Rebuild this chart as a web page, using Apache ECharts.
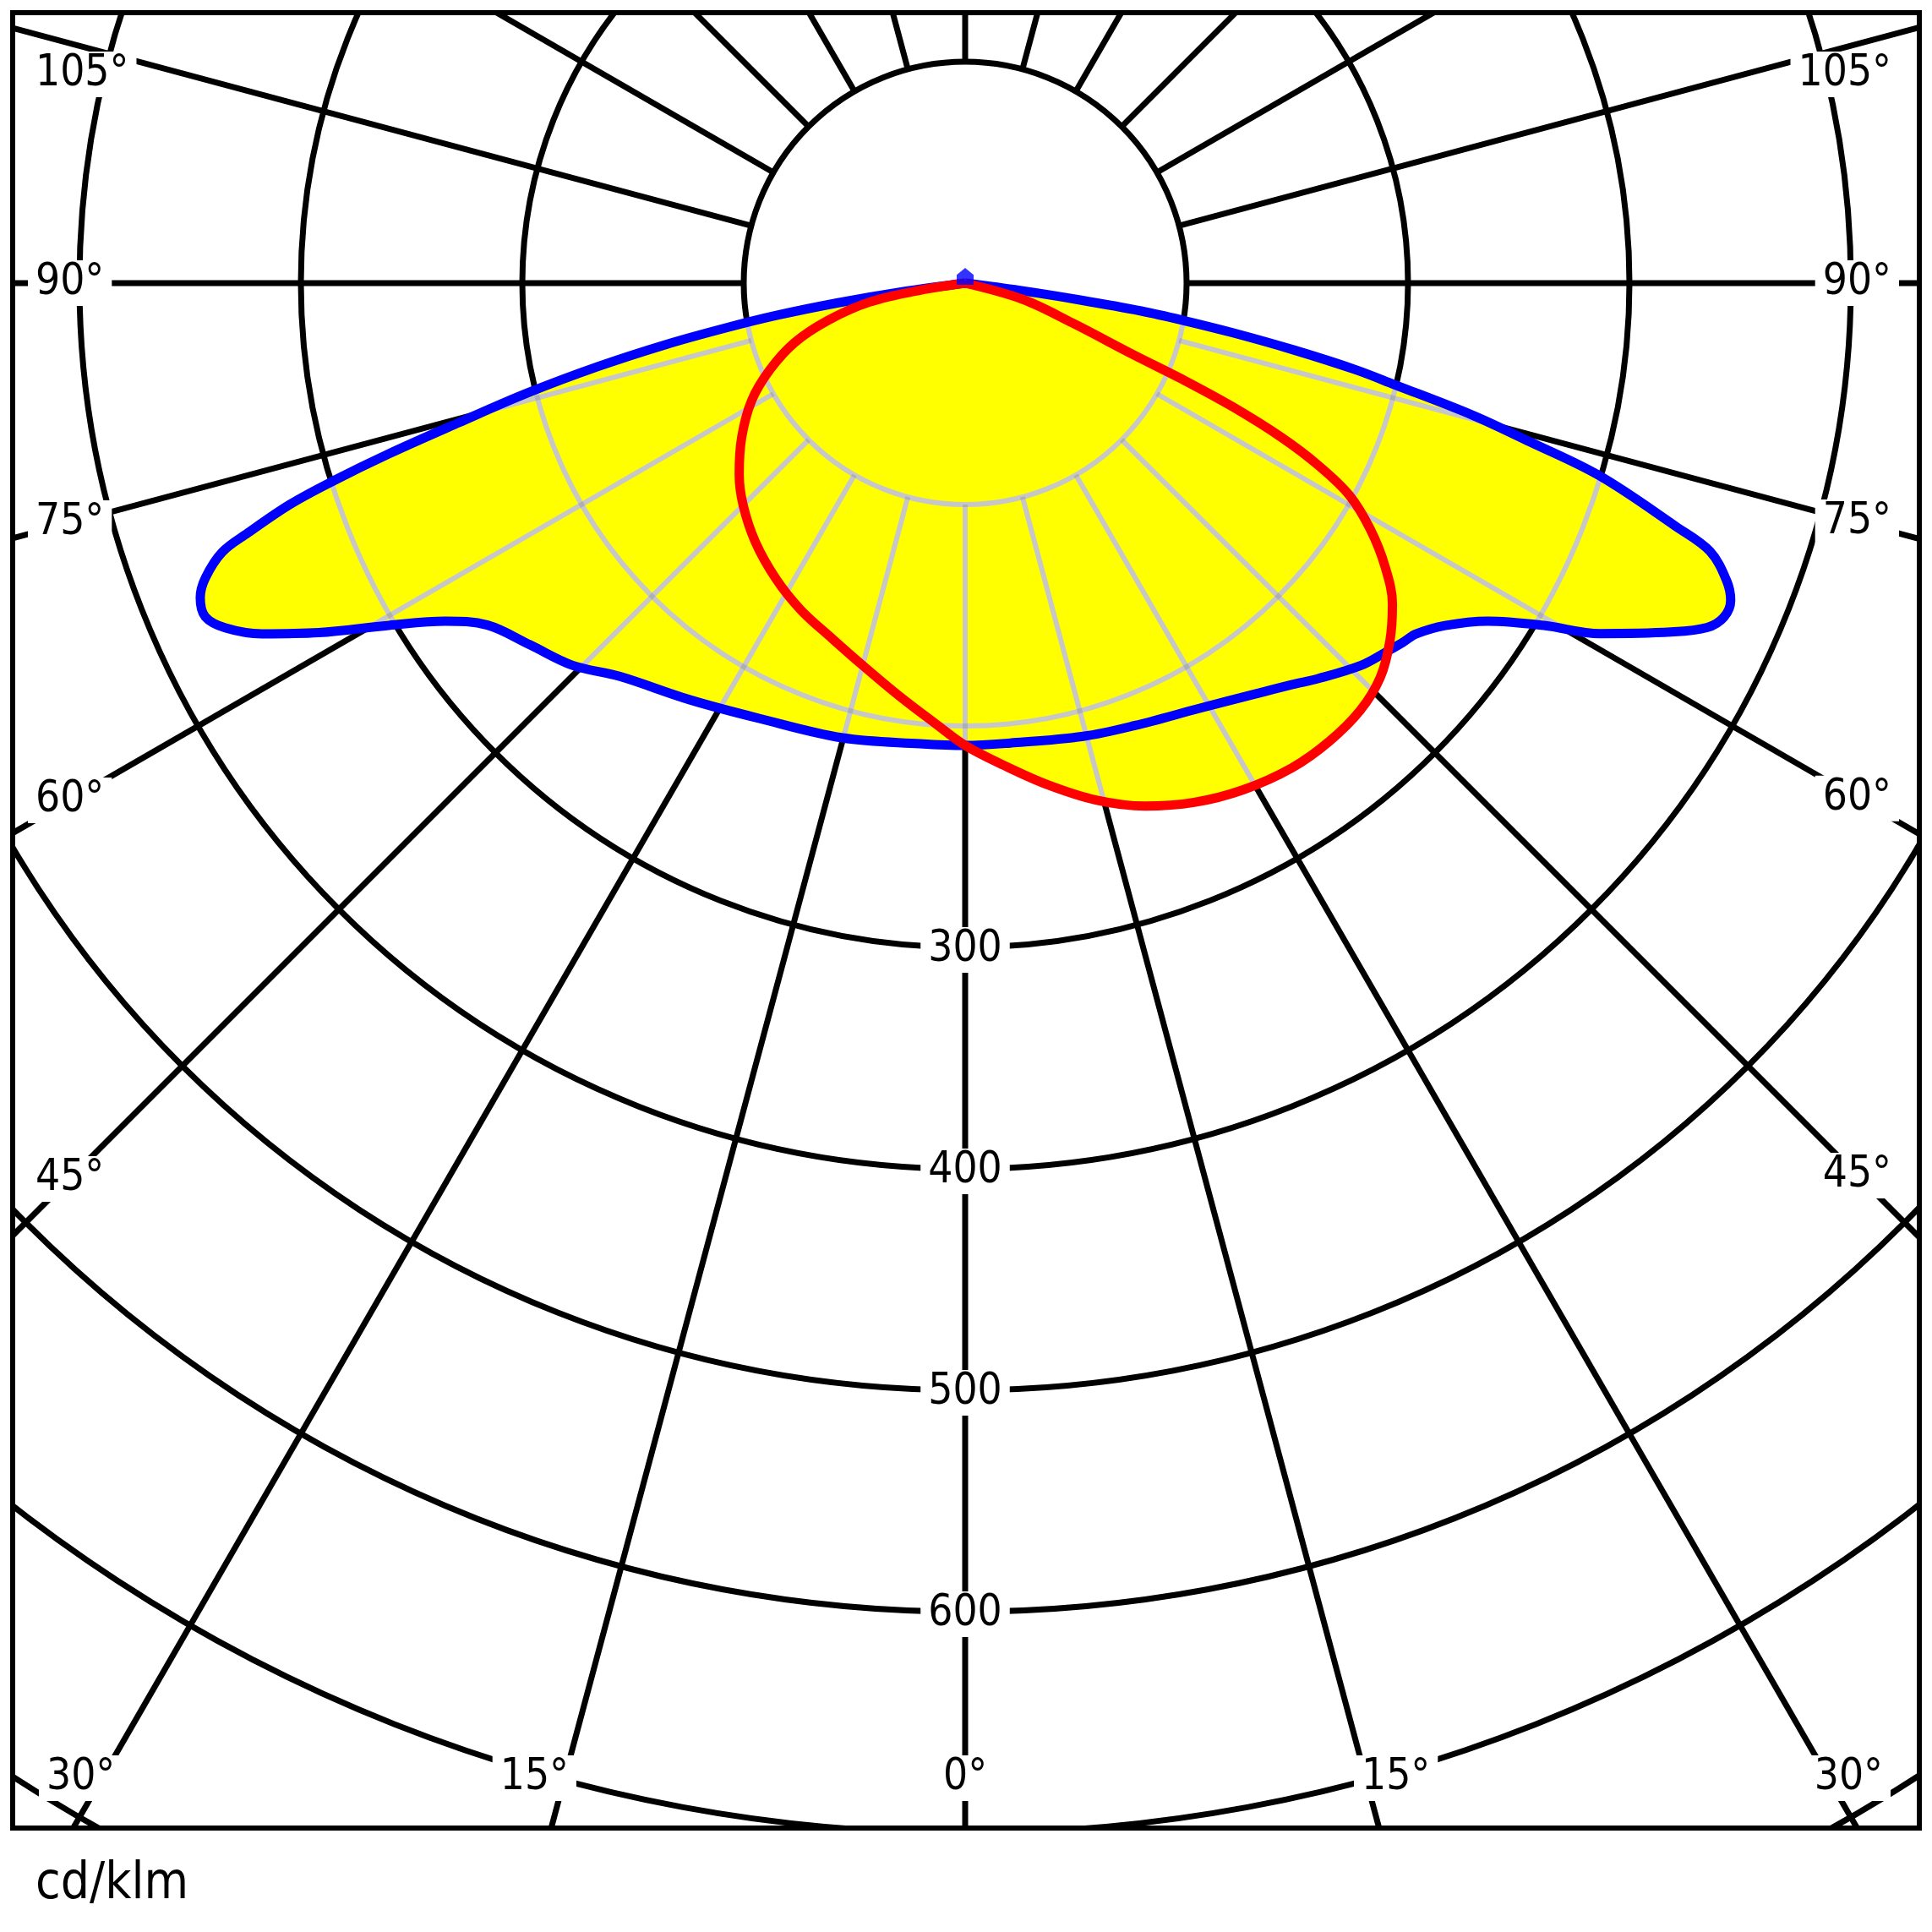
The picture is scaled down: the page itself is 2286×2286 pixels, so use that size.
<!DOCTYPE html>
<html><head><meta charset="utf-8">
<script src="https://cdn.jsdelivr.net/npm/echarts@6/dist/echarts.min.js"></script>
<style>html,body{margin:0;padding:0;background:#fff}#c{width:2286px;height:2286px}</style>
</head><body><div id="c"></div>
<script>
// ---------- data (luminous intensity, cd/klm, vs gamma angle in degrees) ----------
// C0/C180 plane (blue)
const blueLeftGamma  = [0, 5.6, 15.1, 25.35, 33.5, 41.3, 45.8, 50.3, 54.4, 56.96, 59.3, 61.6, 63.5, 65.0, 66.3, 67.65, 68.8, 70.1, 70.8, 71.85, 72.6, 73.5, 74.6, 75.9, 77.2, 78.4, 79.4, 80.3, 81.2, 82.2, 90];
const blueLeftValue  = [208.8, 209, 212.7, 217.5, 225.6, 236.4, 247.5, 255.6, 265.3, 280, 302.7, 331.8, 354.9, 368.5, 374.8, 373.5, 368, 356.8, 343, 321, 299.6, 271.5, 237.1, 204, 170, 138, 110, 86, 58, 28, 0];
const blueRightGamma = [0, 5.6, 14.6, 21, 28.8, 35.4, 39.2, 41.8, 46.05, 48.6, 50.6, 52.1, 54.5, 57.1, 59.4, 61.1, 63.7, 65.1, 66.25, 67.5, 68.66, 70.2, 71.1, 73.1, 74.3, 75.4, 76.7, 77.5, 78.5, 79.5, 80.3, 81.0, 81.65, 82.4, 90];
const blueRightValue = [208.8, 208.7, 211.5, 214, 219.2, 227.4, 233.9, 239.5, 248.6, 252.5, 255.7, 258, 266.3, 281, 303.7, 327.5, 355.6, 369.4, 374.4, 374.2, 369.2, 357.5, 339.3, 299.5, 264.9, 237.1, 199.2, 180.5, 151.5, 122.6, 99.8, 80.5, 52.5, 25, 0];
// C90/C270 plane (red)
const redLeftGamma   = [0, 3.72, 9.03, 15.03, 20.6, 26.7, 32.55, 39.0, 45.0, 49.75, 55.4, 61.2, 66.1, 70.8, 74.8, 78.8, 81.2, 90];
const redLeftValue   = [208.8, 199.7, 188.9, 178.7, 171.3, 165.2, 158.6, 150.5, 141.8, 133.7, 122.6, 110, 96.4, 81.5, 64.2, 44, 20, 0];
const redRightGamma  = [0, 4.6, 9.3, 14.2, 19.0, 23.8, 28.76, 34.0, 38.5, 42.75, 46.45, 49.9, 53.1, 55.96, 58.7, 61.1, 62.7, 64.0, 65.2, 66.1, 66.95, 69.65, 74.25, 90];
const redRightValue  = [208.8, 218.5, 229.5, 240.8, 249.8, 256.3, 261, 264, 264.3, 262.8, 258.6, 250.8, 241.3, 228.9, 214.2, 198.2, 179.6, 159, 132.9, 107.6, 82.7, 51.5, 27.1, 0];
// luminaire position marker at the origin
const originMarker = [[0, 0]];

// grid / ticks
const radiusTicks  = [100, 200, 300, 400, 500, 600, 700, 800, 900];
const radiusLabels = [300, 400, 500, 600];
const angleTicks   = [0, 15, 30, 45, 60, 75, 90, 105, 120, 135, 150, 165, 180, 195, 210, 225, 240, 255, 270, 285, 300, 315, 330, 345];
const angleLabels  = [0, 15, 30, 45, 60, 75, 90, 105];
const unitLabel    = 'cd/klm';

// ---------- layout ----------
const CENTER = [1142, 335];
const PX_PER_UNIT = 2.62;
const R_MAX = 900;
const GRID_INNER = 100;
const BOX = {x: 15, y: 15, w: 2256, h: 2148};
const FONT = '"DejaVu Sans Condensed", "DejaVu Sans", sans-serif';
const LABEL_SIZE = 51;

const chart = echarts.init(document.getElementById('c'), null, {renderer: 'canvas', width: 2286, height: 2286});

function toAngle(g, side) { return side === 'R' ? g : (360 - g) % 360; }
function buildCurve(lg, lv, rg, rv) {
  const pts = [];
  for (let i = lg.length - 1; i >= 0; i--) {
    if (i === 0 && lg[0] === 0 && rg[0] === 0) continue;
    pts.push([lv[i], toAngle(lg[i], 'L')]);
  }
  for (let i = 0; i < rg.length; i++) pts.push([rv[i], toAngle(rg[i], 'R')]);
  return pts;
}
const blueCurve = buildCurve(blueLeftGamma, blueLeftValue, blueRightGamma, blueRightValue);
const redCurve  = buildCurve(redLeftGamma, redLeftValue, redRightGamma, redRightValue);

function radialRender(style) {
  return function (params, api) {
    const a = api.value(1);
    const p0 = api.coord([GRID_INNER, a]);
    const p1 = api.coord([api.value(0), a]);
    return {type: 'line', shape: {x1: p0[0], y1: p0[1], x2: p1[0], y2: p1[1]}, style: style};
  };
}
function ringRender(style) {
  return function (params, api) {
    const c = api.coord([0, 0]);
    const p = api.coord([api.value(0), 0]);
    return {type: 'circle', shape: {cx: c[0], cy: c[1], r: Math.hypot(p[0] - c[0], p[1] - c[1])}, style: style};
  };
}
const radialData = angleTicks.map(a => [R_MAX, a]);
const ringData = radiusTicks.map(r => [r, 0]);

const GRID_W = 7;
const GRAY_W = 6;
const blackStyle = {fill: 'none', stroke: '#000', lineWidth: GRID_W};
const pass1Style = {fill: 'none', stroke: '#808080', lineWidth: GRAY_W};
const pass2Style = {fill: 'none', stroke: 'rgb(224,224,224)', lineWidth: GRAY_W};

function gridSeries(style, z, blend) {
  const s1 = {type: 'custom', coordinateSystem: 'polar', data: radialData, renderItem: radialRender(style), z: z, silent: true, animation: false};
  const s2 = {type: 'custom', coordinateSystem: 'polar', data: ringData, renderItem: ringRender(style), z: z, silent: true, animation: false};
  if (blend) { s1.blendMode = blend; s2.blendMode = blend; }
  return [s1, s2];
}
const SMOOTH = 0.35;
function fillSeries(data) {
  return {type: 'line', coordinateSystem: 'polar', data: data, smooth: SMOOTH, symbol: 'none', showSymbol: false,
    lineStyle: {width: 0, opacity: 0}, areaStyle: {color: '#ffff00', opacity: 1}, z: 2, silent: true, animation: false, clip: false};
}
function curveSeries(data, color) {
  return {type: 'line', coordinateSystem: 'polar', data: data, smooth: SMOOTH, symbol: 'none', showSymbol: false,
    lineStyle: {width: 11, color: color, join: 'round'}, z: 5, silent: true, animation: false, clip: false};
}

const option = {
  backgroundColor: '#ffffff',
  animation: false,
  polar: {center: CENTER, radius: R_MAX * PX_PER_UNIT},
  angleAxis: {type: 'value', min: 0, max: 360, interval: 15, startAngle: 270, clockwise: false,
    axisLine: {show: false}, axisTick: {show: false}, axisLabel: {show: false}, splitLine: {show: false}},
  radiusAxis: {type: 'value', min: 0, max: R_MAX, interval: 100,
    axisLine: {show: false}, axisTick: {show: false}, axisLabel: {show: false}, splitLine: {show: false}},
  series: [].concat(
    gridSeries(blackStyle, 1, null),
    [fillSeries(blueCurve), fillSeries(redCurve)],
    gridSeries(pass1Style, 3, 'color'),
    gridSeries(pass2Style, 4, 'multiply'),
    [curveSeries(blueCurve, '#0000ff'), curveSeries(redCurve, '#ff0000')],
    [{type: 'scatter', coordinateSystem: 'polar', data: originMarker, symbol: 'path://M0,5 L5,0 L10,5 L10,12 L0,12 Z',
      symbolSize: [20, 20], symbolOffset: [0, -8], itemStyle: {color: '#0000ff'}, z: 6, silent: true, animation: false}]
  )
};
chart.setOption(option);

// ---------- labels placed via the polar coordinate system ----------
const mctx = document.createElement('canvas').getContext('2d');
function textW(t, size) { mctx.font = size + 'px ' + FONT; return mctx.measureText(t).width; }
function px(r, a) { return chart.convertToPixel({seriesIndex: 0}, [r, a]); }
const c0 = px(0, 0);
function dir(a) { const p = px(100, a); const l = Math.hypot(p[0] - c0[0], p[1] - c0[1]); return [(p[0] - c0[0]) / l, (p[1] - c0[1]) / l]; }

const PAD = 9;
const SIDE_TEXT_L = 42, SIDE_TEXT_R = 2238;       // outer text edges of side labels
const BOT_TEXT_L = 55, BOT_TEXT_R = 2228;         // outer text edges of bottom labels
const SIDE_MID = 40, BOTTOM_Y = 2104, TOP_MIN = 88;
const graphics = [];
function textEl(t, x, y, align, size, bg) {
  const st = {text: t, font: size + 'px ' + FONT, fill: '#000', align: align, textAlign: align,
    verticalAlign: 'middle', textVerticalAlign: 'middle'};
  if (bg) { st.backgroundColor = '#fff'; st.padding = [2, PAD]; st.lineHeight = 50; }
  return {type: 'text', x: x, y: y, z: 20, silent: true, style: st};
}
angleLabels.forEach(g => {
  const sides = g === 0 ? ['R'] : ['L', 'R'];
  sides.forEach(side => {
    const a = toAngle(g, side);
    const d = dir(a);
    const t = g + '°';
    const w = textW(t, LABEL_SIZE);
    if (g === 0) {
      const tt = (BOTTOM_Y - c0[1]) / d[1];
      graphics.push(textEl(t, c0[0] + tt * d[0], BOTTOM_Y, 'center', LABEL_SIZE, true));
      return;
    }
    const xc = side === 'L' ? SIDE_TEXT_L + SIDE_MID : SIDE_TEXT_R - SIDE_MID;
    const ts = (xc - c0[0]) / d[0];
    let y = c0[1] + ts * d[1];
    if (y <= BOTTOM_Y) {
      y = Math.max(y, TOP_MIN);
      if (side === 'L') graphics.push(textEl(t, SIDE_TEXT_L - PAD, y, 'left', LABEL_SIZE, true));
      else graphics.push(textEl(t, SIDE_TEXT_R + PAD, y, 'right', LABEL_SIZE, true));
    } else {
      const tb = (BOTTOM_Y - c0[1]) / d[1];
      const xi = c0[0] + tb * d[0];
      if (side === 'L') {
        const xe = Math.max(xi + 5, BOT_TEXT_L + w);
        graphics.push(textEl(t, xe + PAD, BOTTOM_Y, 'right', LABEL_SIZE, true));
      } else {
        const xs = Math.min(xi - 5, BOT_TEXT_R - w);
        graphics.push(textEl(t, xs - PAD, BOTTOM_Y, 'left', LABEL_SIZE, true));
      }
    }
  });
});
radiusLabels.forEach(r => {
  const p = px(r, 0);
  graphics.push(textEl(String(r), p[0], p[1] + 3, 'center', LABEL_SIZE, true));
});
// masks outside the frame and the frame itself
const W = 2286, H = 2286;
[[0, 0, W, BOX.y], [0, BOX.y + BOX.h, W, H - BOX.y - BOX.h], [0, 0, BOX.x, H], [BOX.x + BOX.w, 0, W - BOX.x - BOX.w, H]].forEach(m => {
  graphics.push({type: 'rect', z: 15, silent: true, shape: {x: m[0], y: m[1], width: m[2], height: m[3]}, style: {fill: '#fff'}});
});
graphics.push({type: 'rect', z: 16, silent: true, shape: {x: BOX.x, y: BOX.y, width: BOX.w, height: BOX.h}, style: {fill: 'none', stroke: '#000', lineWidth: 6}});
graphics.push(textEl(unitLabel, 42, 2230, 'left', 60, false));
chart.setOption({graphic: {elements: graphics}});
</script>
</body></html>
